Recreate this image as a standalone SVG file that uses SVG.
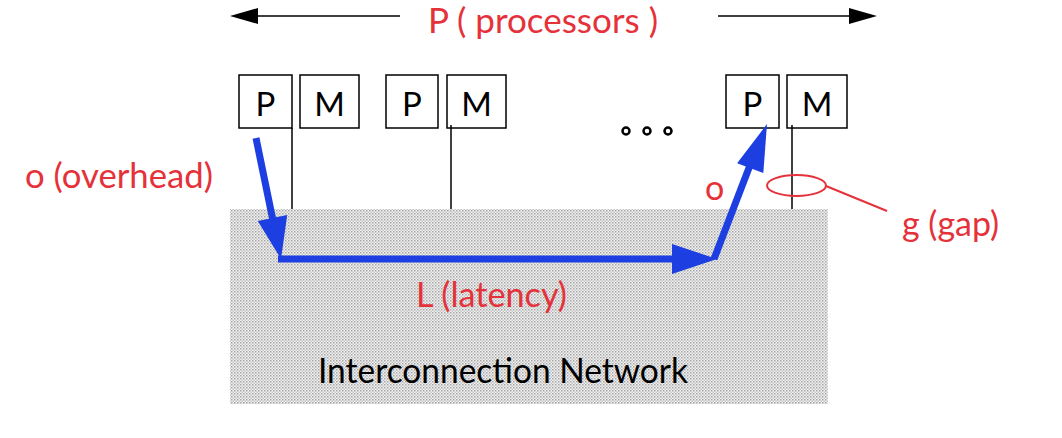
<svg xmlns="http://www.w3.org/2000/svg" width="1062" height="438" viewBox="0 0 1062 438">
<defs>
<pattern id="dots" width="3" height="3" patternUnits="userSpaceOnUse">
<rect width="3" height="3" fill="#f2f2f2"/>
<rect x="0" y="0" width="1.5" height="1.5" fill="#a4a4a4"/>
<rect x="1.5" y="1.5" width="1.5" height="1.5" fill="#c6c6c6"/>
</pattern>
<style>
.box{fill:#fff;stroke:#000;stroke-width:1.5}
.lbl{font-family:Lato,"Open Sans",sans-serif;font-size:33px;fill:#000;text-anchor:middle}
.red{font-family:Lato,"Open Sans",sans-serif;font-size:34px;fill:#e5323a}
.wire{stroke:#000;stroke-width:1.5;fill:none}
.blue{stroke:#1d3ee0;stroke-width:7;fill:none;stroke-linejoin:miter}
.bhead{fill:#1d3ee0}
</style>
</defs>
<rect width="1062" height="438" fill="#fff"/>
<g id="network">
<rect x="230" y="209" width="598" height="195" fill="url(#dots)"/>
<text x="318" y="383" font-family="Lato,'Open Sans',sans-serif" font-size="34" textLength="370" lengthAdjust="spacingAndGlyphs">Interconnection Network</text>
</g>
<g id="processors-label">
<line x1="256" y1="16" x2="400" y2="16" class="wire"/>
<polygon points="230,16 258,8 258,24" fill="#000"/>
<line x1="718" y1="16" x2="850" y2="16" class="wire"/>
<polygon points="877,16 849,8 849,24" fill="#000"/>
<text x="428" y="33" class="red" textLength="230" lengthAdjust="spacingAndGlyphs">P  ( processors )</text>
</g>
<g id="node1">
<rect x="239" y="75" width="53" height="53" class="box"/>
<text x="265.5" y="116" class="lbl">P</text>
<rect x="300" y="75" width="59" height="53" class="box"/>
<text x="329.5" y="116" class="lbl">M</text>
</g>
<g id="node2">
<rect x="386" y="75" width="52" height="53" class="box"/>
<text x="412" y="116" class="lbl">P</text>
<rect x="447" y="75" width="59" height="53" class="box"/>
<text x="476.5" y="116" class="lbl">M</text>
</g>
<g id="node3">
<rect x="726" y="75" width="53" height="53" class="box"/>
<text x="752.5" y="116" class="lbl">P</text>
<rect x="787" y="75" width="60" height="53" class="box"/>
<text x="817" y="116" class="lbl">M</text>
</g>
<g id="ellipsis">
<circle cx="626" cy="131" r="3.5" fill="none" stroke="#000" stroke-width="2.5"/>
<circle cx="647" cy="131" r="3.5" fill="none" stroke="#000" stroke-width="2.5"/>
<circle cx="668" cy="131" r="3.5" fill="none" stroke="#000" stroke-width="2.5"/>
</g>
<g id="connectors">
<line x1="292" y1="128" x2="292" y2="209" class="wire"/>
<line x1="451" y1="125" x2="451" y2="209" class="wire"/>
<line x1="792" y1="125" x2="792" y2="209" class="wire"/>
<polyline points="256,138 278,245" class="blue"/>
<polygon points="281,259 287.2,214.9 257.8,220.9" class="bhead"/>
<polyline points="278,259 680,259" class="blue"/>
<polygon points="717,259 672,244 672,274" class="bhead"/>
<polyline points="714,259 752,160" class="blue"/>
<polygon points="767,124 763.3,173 737.1,163.2" class="bhead"/>
</g>
<g id="gap-callout">
<ellipse cx="796.5" cy="185.5" rx="29.5" ry="10.5" fill="none" stroke="#e5323a" stroke-width="2"/>
<line x1="826" y1="186" x2="887" y2="211" stroke="#e5323a" stroke-width="2"/>
<text x="902" y="236" class="red" textLength="97" lengthAdjust="spacingAndGlyphs">g (gap)</text>
</g>
<g id="labels">
<text x="25" y="188" class="red" textLength="188" lengthAdjust="spacingAndGlyphs">o (overhead)</text>
<text x="705" y="200" class="red">o</text>
<text x="416" y="307" class="red" textLength="151" lengthAdjust="spacingAndGlyphs">L (latency)</text>
</g>
</svg>
